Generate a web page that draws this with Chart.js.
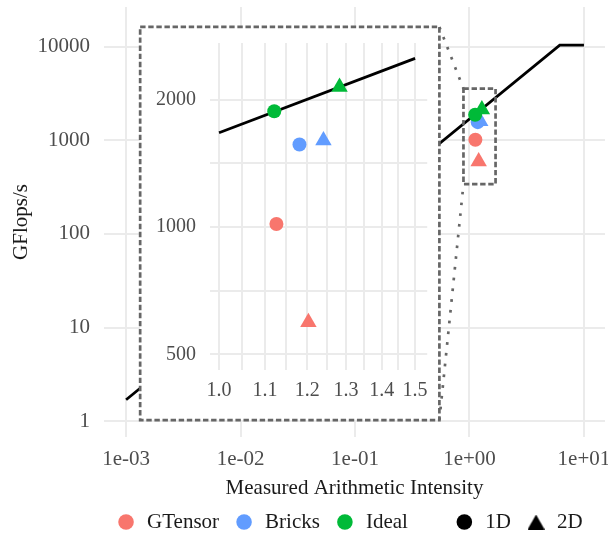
<!DOCTYPE html>
<html>
<head>
<meta charset="utf-8">
<script src="https://cdn.jsdelivr.net/npm/chart.js@4.4.1/dist/chart.umd.min.js"></script>
<style>
  html, body { margin: 0; padding: 0; background: #fff; }
  #wrap { position: relative; width: 608px; height: 537px; overflow: hidden; }
  #main { position: absolute; left: 0; top: 0; }
  #insetBox { position: absolute; }
</style>
</head>
<body>
<div id="wrap">
  <canvas id="main" width="608" height="537"></canvas>
  <div id="insetBox"><canvas id="inset"></canvas></div>
</div>
<script>
// measured points: [1D, 2D]
const dims = ['1D', '2D'];
const gtensorAI = [1.126, 1.203];
const gtensorGF = [1016, 595];
const bricksAI = [1.181, 1.241];
const bricksGF = [1567, 1602];
const idealAI = [1.121, 1.283];
const idealGF = [1878, 2143];

// roofline
const roofAI = [0.001, 6.15, 10];
const roofGF = [1.69, 10400, 10400];
const insetRoofAI = [1.0, 1.5];
const insetRoofGF = [1670, 2505];

const xTicks = [0.001, 0.01, 0.1, 1, 10];
const xTickLabels = ['1e-03', '1e-02', '1e-01', '1e+00', '1e+01'];
const yTicks = [1, 10, 100, 1000, 10000];
const yTickLabels = ['1', '10', '100', '1000', '10000'];
const insetXTicks = [1.0, 1.1, 1.2, 1.3, 1.4, 1.5];
const insetXTickLabels = ['1.0', '1.1', '1.2', '1.3', '1.4', '1.5'];
const insetXMinor = [1.049, 1.149, 1.249, 1.349, 1.449];
const insetYTicks = [500, 1000, 2000];
const insetYTickLabels = ['500', '1000', '2000'];
const insetYMinor = [707, 1414];

// magnified region and where the inset sits (data units of the main plot)
const zoomFrom = { x: [0.886, 1.69], y: [340, 3573] };
const zoomTo = { x: [1.327e-3, 0.546], y: [1.025, 16320] };

const FONT = "'Liberation Serif', 'DejaVu Serif', serif";
const GRID = '#EBEBEB';
const TICK = '#4D4D4D';
const BOXCOL = '#666666';

const series = [
  { name: 'Ideal', ai: idealAI, gf: idealGF, color: '#00BA38', order: 0 },
  { name: 'Bricks', ai: bricksAI, gf: bricksGF, color: '#619CFF', order: 1 },
  { name: 'GTensor', ai: gtensorAI, gf: gtensorGF, color: '#F8766D', order: 2 }
];

function pointDatasets() {
  return series.map(s => ({
    type: 'scatter',
    label: s.name,
    data: s.ai.map((x, i) => ({ x, y: s.gf[i] })),
    backgroundColor: s.color,
    pointBorderWidth: 0,
    pointStyle: dims.map(d => d === '1D' ? 'circle' : 'triangle'),
    pointRadius: dims.map(d => d === '1D' ? 7 : 9.5),
    order: s.order
  }));
}

function lineDataset(xs, ys) {
  return {
    type: 'line',
    data: xs.map((x, i) => ({ x, y: ys[i] })),
    borderColor: '#000',
    borderWidth: 2.8,
    pointRadius: 0,
    order: 10
  };
}

function toPixels(xs, ys, r) {
  return {
    l: xs.getPixelForValue(r.x[0]), r: xs.getPixelForValue(r.x[1]),
    t: ys.getPixelForValue(r.y[1]), b: ys.getPixelForValue(r.y[0])
  };
}

// keep the plot panel exactly where the axes say, no label overhang padding
function noPad(s) {
  s.paddingTop = 0; s.paddingBottom = 0; s.paddingLeft = 0; s.paddingRight = 0;
}

const magnify = {
  id: 'magnify',
  afterDatasetsDraw(chart) {
    const { ctx, scales: { x, y } } = chart;
    const to = toPixels(x, y, zoomTo);
    const from = toPixels(x, y, zoomFrom);
    ctx.save();
    ctx.fillStyle = '#fff';
    ctx.fillRect(to.l, to.t, to.r - to.l, to.b - to.t);
    ctx.strokeStyle = BOXCOL;
    ctx.lineWidth = 2.7;
    ctx.setLineDash([2.7, 8.1]);
    ctx.beginPath();
    ctx.moveTo(to.r, to.t); ctx.lineTo(from.l, from.t);
    ctx.moveTo(to.r, to.b); ctx.lineTo(from.l, from.b);
    ctx.stroke();
    ctx.setLineDash([5.4, 2.7]);
    ctx.strokeRect(to.l, to.t, to.r - to.l, to.b - to.t);
    ctx.strokeRect(from.l, from.t, from.r - from.l, from.b - from.t);
    ctx.restore();
  }
};

// legend glyph for 2D, a bit larger than the built-in triangle
function triangleGlyph() {
  const c = document.createElement('canvas');
  c.width = 17; c.height = 15;
  const g = c.getContext('2d');
  g.fillStyle = '#000';
  g.beginPath();
  g.moveTo(8.5, 0); g.lineTo(17, 15); g.lineTo(0, 15);
  g.closePath();
  g.fill();
  return c;
}

function legendItems() {
  const blank = 'rgba(0,0,0,0)';
  const item = (text, color, style) => ({ text, fillStyle: color, strokeStyle: color, lineWidth: 0, pointStyle: style, hidden: false, fontColor: '#1A1A1A' });
  return [
    item('         ', blank, 'circle'),
    item('GTensor', '#F8766D', 'circle'),
    item('Bricks', '#619CFF', 'circle'),
    item('Ideal      ', '#00BA38', 'circle'),
    item('1D', '#000', 'circle'),
    item('2D', '#000', triangleGlyph())
  ];
}

const mainChart = new Chart(document.getElementById('main'), {
  data: { datasets: [lineDataset(roofAI, roofGF), ...pointDatasets()] },
  options: {
    responsive: false,
    animation: false,
    events: [],
    layout: { autoPadding: false, padding: { top: 7, right: 3, left: 0, bottom: -5.5 } },
    scales: {
      x: {
        type: 'logarithmic',
        bounds: 'data',
        min: Math.pow(10, -3.193),
        max: Math.pow(10, 1.184),
        afterBuildTicks: s => { s.ticks = xTicks.map(v => ({ value: v })); },
        afterFit: s => { s.height = 60; noPad(s); },
        ticks: {
          callback: (v, i) => xTickLabels[i],
          autoSkip: false, maxRotation: 0, padding: 9.5,
          color: TICK, font: { family: FONT, size: 21 }
        },
        grid: { color: GRID, lineWidth: 2, drawTicks: false },
        border: { display: false },
        title: {
          display: true, text: 'Measured Arithmetic Intensity', color: '#1A1A1A',
          font: { family: FONT, size: 21, lineHeight: 0.8 }, padding: { top: 0, bottom: 0 }
        }
      },
      y: {
        type: 'logarithmic',
        bounds: 'data',
        min: Math.pow(10, -0.170),
        max: Math.pow(10, 4.4255),
        afterBuildTicks: s => { s.ticks = yTicks.map(v => ({ value: v })); },
        afterFit: s => { s.width = 104; noPad(s); },
        ticks: {
          callback: (v, i) => yTickLabels[i],
          autoSkip: false, padding: 14,
          color: TICK, font: { family: FONT, size: 21 }
        },
        grid: { color: GRID, lineWidth: 2, drawTicks: false },
        border: { display: false },
        title: {
          display: true, text: 'GFlops/s', color: '#1A1A1A',
          font: { family: FONT, size: 21 }, padding: { top: 9, bottom: 0 }
        }
      }
    },
    plugins: {
      legend: {
        position: 'bottom',
        labels: {
          usePointStyle: true, boxWidth: 21, boxHeight: 11, padding: 14.5,
          color: '#1A1A1A', font: { family: FONT, size: 21 },
          generateLabels: legendItems
        }
      },
      tooltip: { enabled: false }
    }
  },
  plugins: [magnify]
});

// place the inset over the magnify box
const px = toPixels(mainChart.scales.x, mainChart.scales.y, zoomTo);
const insetBox = document.getElementById('insetBox');
insetBox.style.left = px.l + 'px';
insetBox.style.top = px.t + 'px';
insetBox.style.width = (px.r - px.l) + 'px';
insetBox.style.height = (px.b - px.t) + 'px';

const lookup = (vals, labels) => v => {
  const i = vals.indexOf(v);
  return i >= 0 ? labels[i] : '';
};

new Chart(document.getElementById('inset'), {
  data: { datasets: [lineDataset(insetRoofAI, insetRoofGF), ...pointDatasets()] },
  options: {
    responsive: true,
    maintainAspectRatio: false,
    animation: false,
    events: [],
    layout: { autoPadding: false, padding: { top: 16, right: 12, left: 0, bottom: 0 } },
    scales: {
      x: {
        type: 'logarithmic',
        bounds: 'data',
        min: 0.9815,
        max: 1.538,
        afterBuildTicks: s => { s.ticks = insetXTicks.concat(insetXMinor).sort((a, b) => a - b).map(v => ({ value: v })); },
        afterFit: s => { s.height = 50; noPad(s); },
        ticks: {
          callback: lookup(insetXTicks, insetXTickLabels),
          autoSkip: false, maxRotation: 0, padding: 9,
          color: TICK, font: { family: FONT, size: 20 }
        },
        grid: { color: GRID, lineWidth: 2, drawTicks: false },
        border: { display: false }
      },
      y: {
        type: 'logarithmic',
        bounds: 'data',
        min: 458.5,
        max: 2723,
        afterBuildTicks: s => { s.ticks = insetYTicks.concat(insetYMinor).sort((a, b) => a - b).map(v => ({ value: v })); },
        afterFit: s => { s.width = 70; noPad(s); },
        ticks: {
          callback: lookup(insetYTicks, insetYTickLabels),
          autoSkip: false, padding: 14,
          color: TICK, font: { family: FONT, size: 20 }
        },
        grid: { color: GRID, lineWidth: 2, drawTicks: false },
        border: { display: false }
      }
    },
    plugins: { legend: { display: false }, tooltip: { enabled: false } }
  }
});
</script>
</body>
</html>
